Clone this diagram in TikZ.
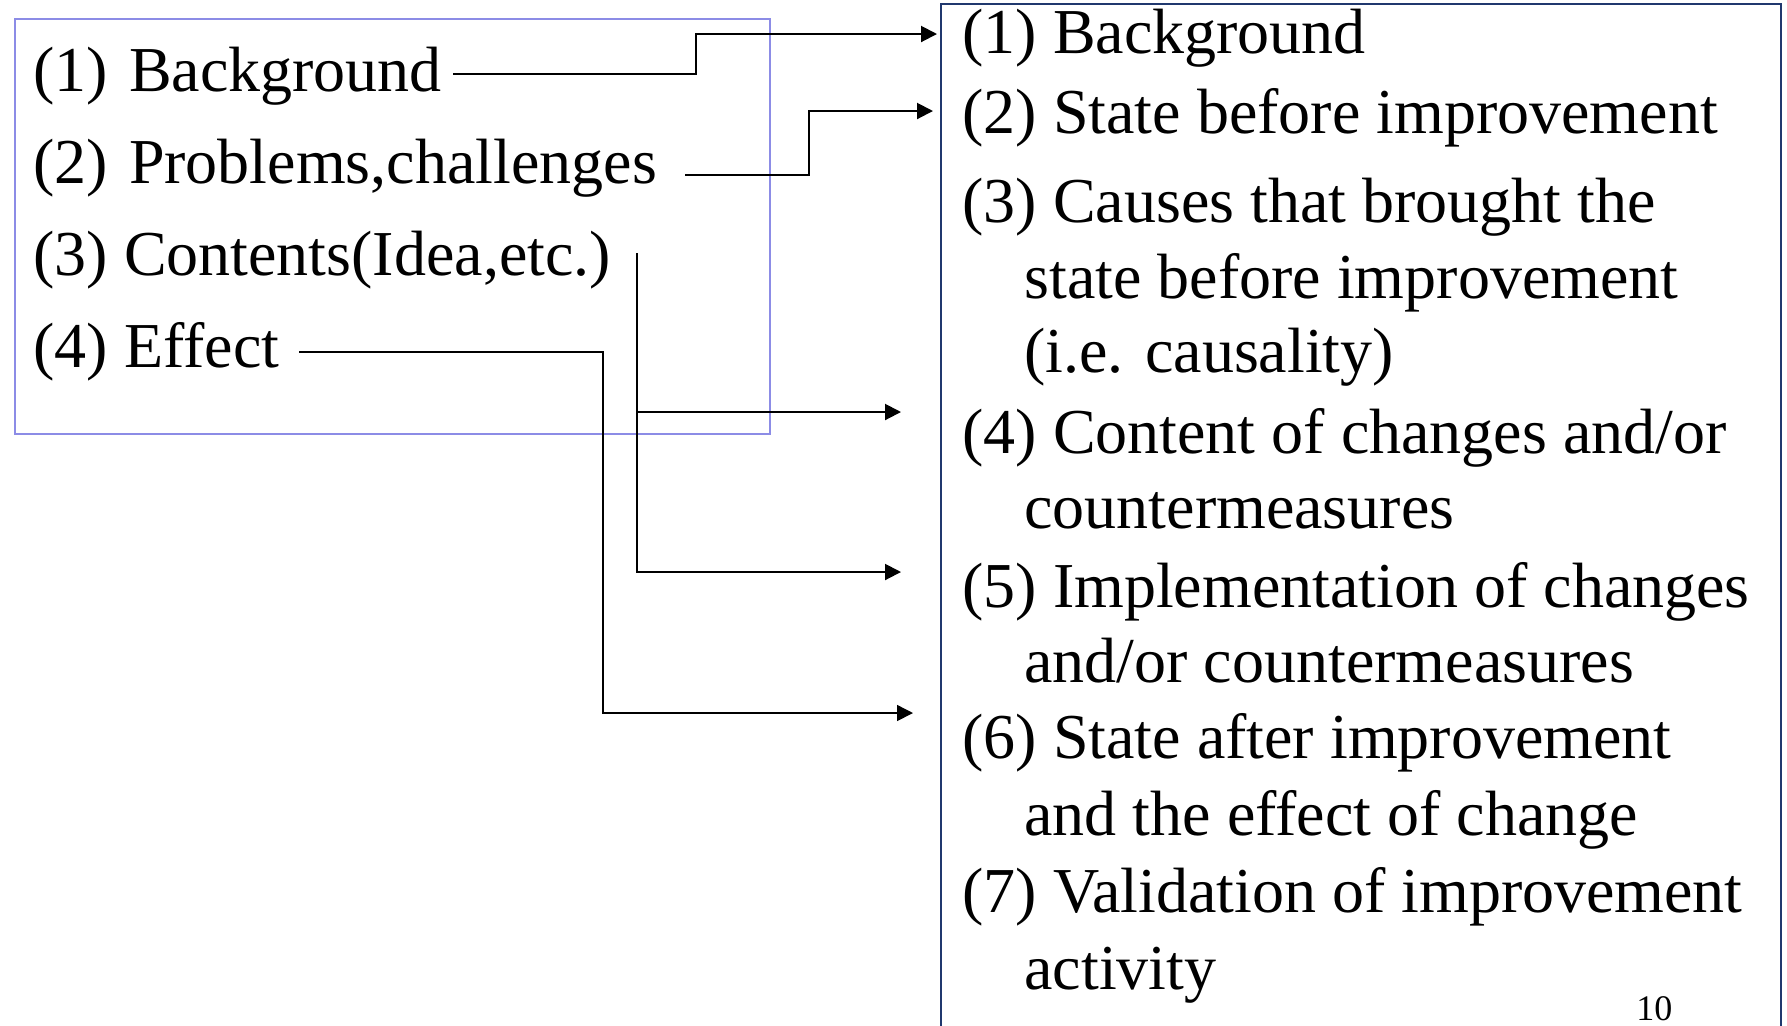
\documentclass[tikz,border=0pt]{standalone}
\usepackage{fontspec}
\setmainfont{Liberation Serif}
\usetikzlibrary{arrows.meta}
\definecolor{framelilac}{RGB}{140,140,230}
\definecolor{framenavy}{RGB}{32,56,110}
\begin{document}
\begin{tikzpicture}[x=0.5pt,y=-0.5pt,
  item/.style={anchor=base west, inner sep=0pt, font=\fontsize{32pt}{38pt}\selectfont},
  pagenum/.style={anchor=base west, inner sep=0pt, font=\fontsize{18pt}{20pt}\selectfont},
  conn/.style={line width=1pt, -{Triangle[length=8pt,width=8pt]}},
  thinconn/.style={conn, line width=0.75pt},
]
\useasboundingbox (0,0) rectangle (1787,1025);
\fill[white] (0,0) rectangle (1787,1025);

% frames
\draw[framelilac, line width=1pt] (15,19) rectangle (770,434);
\draw[framenavy, line width=1.4pt] (941,4) rectangle (1781,1028);

% short outline
\node[item] (L1) at (33,91)  {(1)\hspace{2.5pt} Background};
\node[item] (L2) at (33,183) {(2)\hspace{2.5pt} Problems,challenges};
\node[item] (L3) at (33,275) {(3) Contents(Idea,etc.)};
\node[item] (L4) at (33,367) {(4) Effect};

% detailed outline
\node[item] (R1)  at (962,53)   {(1) Background};
\node[item] (R2)  at (962,133)  {(2) State before improvement};
\node[item] (R3)  at (962,222)  {(3) Causes that brought the};
\node[item] (R3b) at (1024,298) {state before improvement};
\node[item] (R3c) at (1024,372) {(i.e. causality)};
\node[item] (R4)  at (962,453)  {(4) Content of changes and/or};
\node[item] (R4b) at (1024,528) {countermeasures};
\node[item] (R5)  at (962,607)  {(5) Implementation of changes};
\node[item] (R5b) at (1024,682) {and/or countermeasures};
\node[item] (R6)  at (962,758)  {(6) State after improvement};
\node[item] (R6b) at (1024,835) {and the effect of change};
\node[item] (R7)  at (962,912)  {(7) Validation of improvement};
\node[item] (R7b) at (1024,989) {activity};
\node[pagenum] (pg) at (1636,1020) {10};

% connector ends
\coordinate (a1) at (453,74);
\coordinate (b1) at (937,34);
\coordinate (a2) at (685,175);
\coordinate (b2) at (933,111);
\coordinate (a3) at (637,253);
\coordinate (b3) at (901,412);
\coordinate (b4) at (901,572);
\coordinate (a5) at (299,352);
\coordinate (b5) at (913,713);

% connectors
\draw[conn] (a1) -| (696,34) -- (b1);
\draw[conn] (a2) -| (809,111) -- (b2);
\draw[conn] (a3) |- (b4);
\draw[conn] (a3 |- b3) -- (b3);
\draw[thinconn] (a5) -| (603,713) -- (b5);
\end{tikzpicture}
\end{document}
